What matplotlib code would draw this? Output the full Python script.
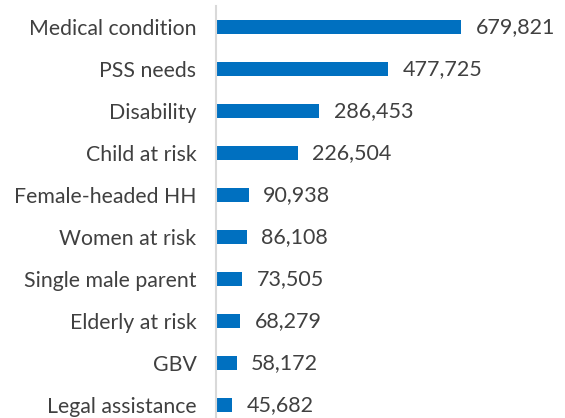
import matplotlib.pyplot as plt

categories = ["Medical condition", "PSS needs", "Disability", "Child at risk",
              "Female-headed HH", "Women at risk", "Single male parent",
              "Elderly at risk", "GBV", "Legal assistance"]
values = [679821, 477725, 286453, 226504, 90938, 86108, 73505, 68279, 58172, 45682]

plt.rcParams['font.family'] = ['Lato', 'DejaVu Sans']

fig = plt.figure(figsize=(5.65, 4.18), dpi=100)
ax = fig.add_axes([0.382, 0.0, 0.618, 412 / 418])

ypos = list(range(len(categories)))
ax.barh(ypos, values, height=0.35, color='#0070C0')

# value labels to the right of each bar
for y, v in zip(ypos, values):
    ax.text(v + 40000, y, f"{v:,}", va='center', ha='left', fontsize=15.5, color='#404040')

ax.set_xlim(0, 968000)
ax.set_ylim(9.31, -0.5)
ax.set_yticks(ypos)
ax.set_yticklabels(categories, fontsize=15.3, color='#404040')
ax.tick_params(axis='y', length=0, pad=14)
ax.set_xticks([])
for s in ['top', 'right', 'bottom']:
    ax.spines[s].set_visible(False)
ax.spines['left'].set_color('#D9D9D9')
ax.spines['left'].set_linewidth(1.5)

fig.savefig('out.png', dpi=100)
